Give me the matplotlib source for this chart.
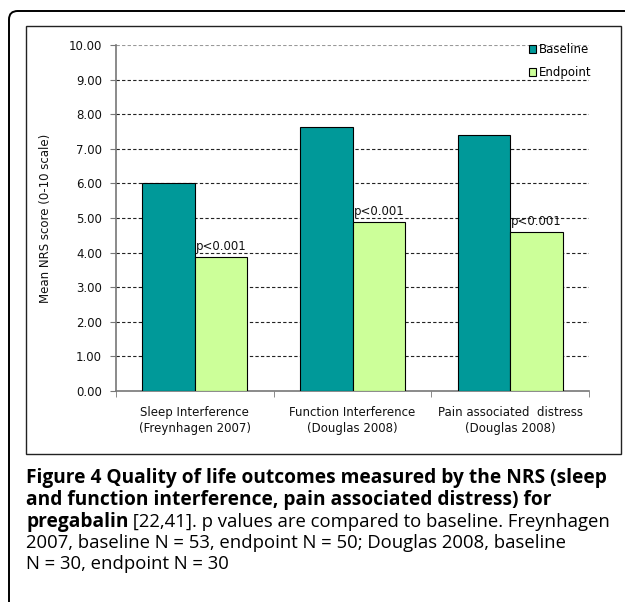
import matplotlib.pyplot as plt
import matplotlib.patches as patches
import numpy as np

# data
categories = ['Sleep Interference\n(Freynhagen 2007)',
              'Function Interference\n(Douglas 2008)',
              'Pain associated  distress\n(Douglas 2008)']
baseline = [6.00, 7.62, 7.41]
endpoint = [3.87, 4.88, 4.60]
p_labels = ['p<0.001', 'p<0.001', 'p<0.001']
yticks = np.arange(0, 11, 1)

W, H = 625, 602
fig = plt.figure(figsize=(W / 100, H / 100), dpi=100)

# outer rounded frame (runs off the right/bottom edge)
frame = patches.FancyBboxPatch((9 / W, -0.05), 1.2, 1 - 11 / H + 0.05,
                               boxstyle='round,pad=0,rounding_size=0.014',
                               transform=fig.transFigure, fill=False,
                               lw=1.4, ec='black')
fig.add_artist(frame)
# inner chart box
fig.add_artist(patches.Rectangle((26 / W, 1 - 454 / H), (621 - 26) / W, (454 - 26) / H,
                                 transform=fig.transFigure, fill=False,
                                 lw=1.0, ec='#222222'))

fs_c = 8.5
ax = fig.add_axes([116 / W, 1 - 391 / H, (589 - 116) / W, (391 - 45) / H])
x = np.arange(len(categories))
bw = 1 / 3
ax.bar(x - bw / 2, baseline, bw, color='#009999', edgecolor='black', lw=0.8,
       label='Baseline', zorder=3)
b2 = ax.bar(x + bw / 2, endpoint, bw, color='#CCFF99', edgecolor='black', lw=0.8,
            label='Endpoint', zorder=3)

for rect, txt in zip(b2, p_labels):
    ax.annotate(txt, (rect.get_x() + rect.get_width() / 2, rect.get_height()),
                xytext=(0, 3), textcoords='offset points', ha='center', va='bottom',
                fontsize=fs_c, color='#111111')

# dashed gridlines
for yv in yticks[1:]:
    col = '#999999' if yv == 10 else '#222222'
    ax.axhline(yv, color=col, lw=0.8, ls=(0, (3, 2)), zorder=1)

ax.set_xlim(-0.5, 2.5)
ax.set_ylim(0, 10)
ax.set_yticks(yticks)
ax.set_yticklabels(['%.2f' % v for v in yticks], fontsize=fs_c, color='#111111')
ax.set_xticks(x)
ax.set_xticklabels(categories, fontsize=fs_c, color='#111111', linespacing=1.25)
ax.set_xticks([-0.5, 0.5, 1.5, 2.5], minor=True)
ax.tick_params(axis='x', which='major', length=0, pad=11)
ax.tick_params(axis='x', which='minor', length=4, color='#777777', direction='out')
ax.tick_params(axis='y', length=4, color='#777777', direction='out', pad=6)
for s in ['top', 'right']:
    ax.spines[s].set_visible(False)
for s in ['left', 'bottom']:
    ax.spines[s].set_color('#777777')
    ax.spines[s].set_linewidth(1.2)
ax.set_ylabel('Mean NRS score (0-10 scale)', fontsize=fs_c, color='#111111', labelpad=12)

leg = ax.legend(loc='upper left', bbox_to_anchor=(529 / W, 1 - 43 / H),
                bbox_transform=fig.transFigure, frameon=False, fontsize=fs_c,
                handlelength=0.6, handleheight=0.6, handletextpad=0.2,
                labelspacing=0.85, borderpad=0, borderaxespad=0)

# caption
cap_font = 'Open Sans'
fb, fr = 13.8, 13.3
fig.text(26 / W, 1 - 478 / H, 'Figure 4 Quality of life outcomes measured by the NRS (sleep',
         fontsize=fb, fontweight='bold', family=cap_font, va='center')
fig.text(26 / W, 1 - 500 / H, 'and function interference, pain associated distress) for',
         fontsize=fb, fontweight='bold', family=cap_font, va='center')
t_bold = fig.text(26 / W, 1 - 522 / H, 'pregabalin', fontsize=fb, fontweight='bold',
                  family=cap_font, va='center')
r = fig.canvas.get_renderer()
bb = t_bold.get_window_extent(renderer=r)
fig.text(bb.x1 / W, 1 - 522 / H, ' [22,41]. p values are compared to baseline. Freynhagen',
         fontsize=fr, family=cap_font, va='center')
fig.text(26 / W, 1 - 543 / H, '2007, baseline N = 53, endpoint N = 50; Douglas 2008, baseline',
         fontsize=fr, family=cap_font, va='center')
fig.text(26 / W, 1 - 564 / H, 'N = 30, endpoint N = 30',
         fontsize=fr, family=cap_font, va='center')

fig.savefig('out.png', dpi=100)
